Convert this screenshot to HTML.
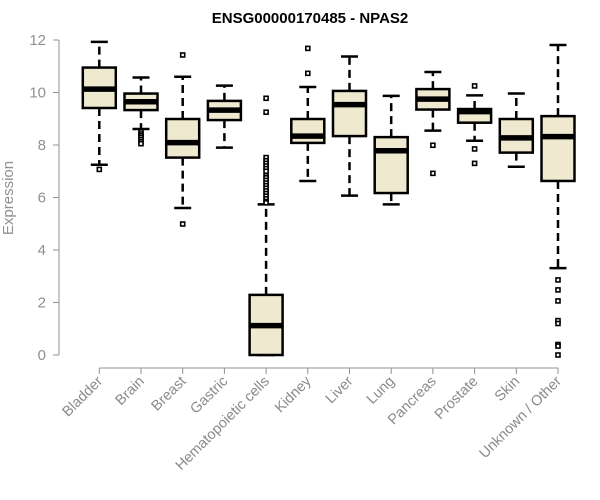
<!DOCTYPE html>
<html><head><meta charset="utf-8">
<style>
html,body{margin:0;padding:0;background:#fff;}
svg{display:block;font-family:"Liberation Sans",Arial,sans-serif;}
</style></head>
<body>
<svg id="chart" width="600" height="500" viewBox="0 0 600 500">
<text x="310" y="23" text-anchor="middle" font-size="15" font-weight="bold">ENSG00000170485 - NPAS2</text>
<text transform="translate(13,198) rotate(-90)" text-anchor="middle" font-size="15" fill="#909090">Expression</text>
<g id="yaxis"></g>
<g id="xaxis"></g>
<g id="boxes"></g>
</svg>
<script>
const categories = ["Bladder","Brain","Breast","Gastric","Hematopoietic cells","Kidney","Liver","Lung","Pancreas","Prostate","Skin","Unknown / Other"];
const whiskerLow = [7.25,8.61,5.6,7.9,0,6.63,6.07,5.74,8.55,8.16,7.17,3.31];
const q1 = [9.41,9.33,7.52,8.95,0,8.08,8.34,6.17,9.35,8.85,7.71,6.63];
const medians = [10.13,9.65,8.09,9.33,1.12,8.34,9.54,7.78,9.75,9.27,8.27,8.32];
const q3 = [10.95,9.96,8.99,9.68,2.29,8.99,10.06,8.3,10.13,9.37,8.99,9.1];
const whiskerHigh = [11.93,10.57,10.6,10.26,5.74,10.21,11.37,9.87,10.78,9.89,9.96,11.81];
const outliers = [
 [7.07],
 [8.5,8.42,8.35,8.28,8.2,8.12,8.05],
 [11.43,4.99],
 [],
 [9.78,9.25,7.52,7.4,7.3,7.2,7.1,7.0,6.83,6.75,6.65,6.55,6.45,6.35,6.25,6.15,6.05,5.95,5.85,5.8],
 [11.68,10.73],
 [],
 [],
 [7.99,6.92],
 [10.25,7.85,7.3],
 [],
 [2.86,2.48,2.06,1.31,1.2,0.4,0.34,0]
];
const yTicks = [0,2,4,6,8,10,12];

const NS="http://www.w3.org/2000/svg";
function mk(tag,attrs,parent){const e=document.createElementNS(NS,tag);for(const k in attrs)e.setAttribute(k,attrs[k]);parent.appendChild(e);return e;}
const y = v => 355 - v*26.25;
const x = i => 99.3 + i*41.7;

const ya=document.getElementById('yaxis');
const yl=mk('line',{x1:59,x2:59,y1:y(12),y2:y(0),stroke:'#909090','stroke-width':1},ya);


yTicks.forEach(t=>{
  const tk=mk('line',{x1:53,x2:59,y1:y(t),y2:y(t),stroke:'#909090','stroke-width':1},ya);
  
  
  const tx=mk('text',{x:46,y:y(t)+5,'text-anchor':'end','font-size':15,fill:'#909090'},ya);
  
  
  tx.textContent=t;
});

const xa=document.getElementById('xaxis');
const xl=mk('line',{x1:x(0),x2:x(categories.length-1),y1:368,y2:368,stroke:'#909090','stroke-width':1},xa);


categories.forEach((c,i)=>{
  const tk=mk('line',{x1:x(i),x2:x(i),y1:368,y2:374,stroke:'#909090','stroke-width':1},xa);
  
  
  const tx=mk('text',{transform:`translate(${x(i)+4},${382}) rotate(-45)`,'text-anchor':'end','font-size':14.5,fill:'#8a8a8a'},xa);
  
  
  tx.textContent=c;
});

const bg=document.getElementById('boxes');
categories.forEach((c,i)=>{
  const cx=x(i), hw=16.5, cw=8.5;
  const g=mk('g',{},bg);
  
  
  const dash={stroke:'#000','stroke-width':2.5,'stroke-dasharray':'8,5'};
  mk('line',Object.assign({x1:cx,x2:cx,y1:y(q3[i]),y2:y(whiskerHigh[i])},dash),g);
  mk('line',Object.assign({x1:cx,x2:cx,y1:y(q1[i]),y2:y(whiskerLow[i])},dash),g);
  mk('line',{x1:cx-cw,x2:cx+cw,y1:y(whiskerHigh[i]),y2:y(whiskerHigh[i]),stroke:'#000','stroke-width':2.5},g);
  mk('line',{x1:cx-cw,x2:cx+cw,y1:y(whiskerLow[i]),y2:y(whiskerLow[i]),stroke:'#000','stroke-width':2.5},g);
  mk('rect',{x:cx-hw,y:y(q3[i]),width:2*hw,height:y(q1[i])-y(q3[i]),fill:'#efe9cf',stroke:'#000','stroke-width':2.5},g);
  mk('line',{x1:cx-hw,x2:cx+hw,y1:y(medians[i]),y2:y(medians[i]),stroke:'#000','stroke-width':5.5},g);
  outliers[i].forEach(v=>{
    const o=mk('rect',{x:cx-2,y:y(v)-2,width:4,height:4,fill:'#fff',stroke:'#000','stroke-width':1.6},g);
    
    
  });
});
</script>
</body></html>
